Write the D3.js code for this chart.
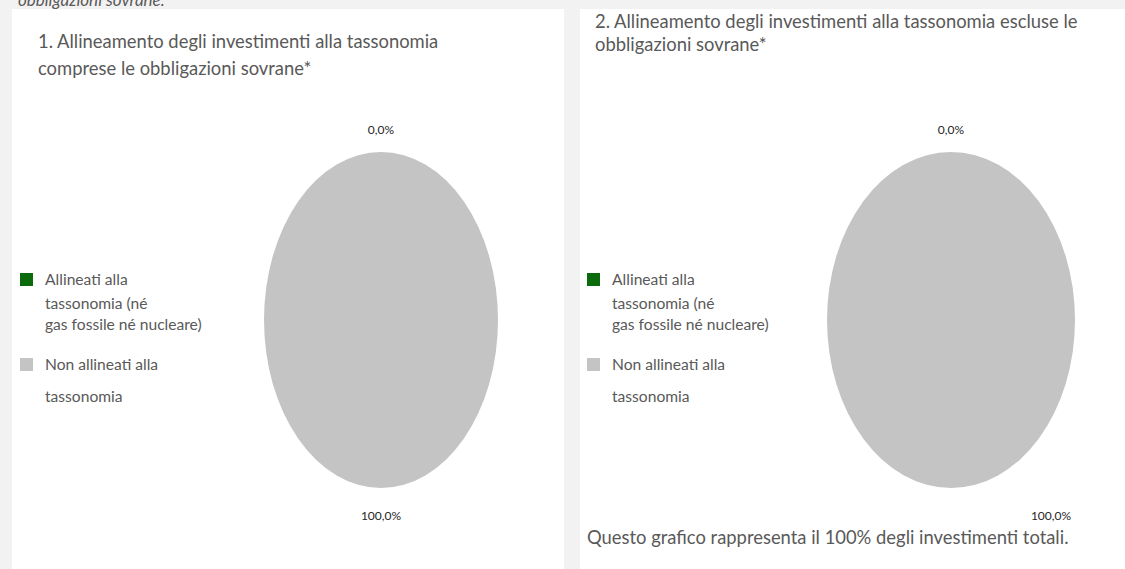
<!DOCTYPE html>
<html>
<head>
<meta charset="utf-8">
<script src="https://cdn.jsdelivr.net/npm/d3@7"></script>
<style>
  body { margin: 0; background: #f2f2f2; font-family: Lato, "Open Sans", sans-serif; }
  svg text { font-family: Lato, "Open Sans", sans-serif; }
</style>
</head>
<body>
<script>
//Chart data
var categories = ["Allineati alla tassonomia (né gas fossile né nucleare)", "Non allineati alla tassonomia"];
var colors = ["#0b6a0b", "#c4c4c4"];
var valuesIncl = [0.0, 100.0];   //comprese le obbligazioni sovrane
var valuesExcl = [0.0, 100.0];   //escluse le obbligazioni sovrane
var titlesIncl = ["1. Allineamento degli investimenti alla tassonomia", "comprese le obbligazioni sovrane*"];
var titlesExcl = ["2. Allineamento degli investimenti alla tassonomia escluse le", "obbligazioni  sovrane*"];
var legendLines = [["Allineati alla", "tassonomia (né", "gas fossile né nucleare)"], ["Non allineati alla", "", "tassonomia"]];
var footnote = "Questo grafico rappresenta il 100% degli investimenti totali.";

var w = 1125, h = 569;

var svg = d3.select("body").append("svg")
    .attr("width", w)
    .attr("height", h);

svg.append("rect").attr("width", w).attr("height", h).attr("fill", "#f2f2f2");

//italic line cut off from the section above
svg.append("text")
    .attr("x", 18).attr("y", 6)
    .attr("font-size", 17)
    .attr("font-style", "italic")
    .attr("fill", "#595959")
    .text("obbligazioni sovrane.");

var fmt = function(v) { return d3.format(".1f")(v).replace(".", ",") + "%"; };

var panels = [
    { x: 12, w: 552, values: valuesIncl, titles: titlesIncl, titleX: 26, titleY: [39, 66],
      cx: 369, rx: 117, legendX: 8, lab100dx: 0 },
    { x: 580, w: 545, values: valuesExcl, titles: titlesExcl, titleX: 15, titleY: [19, 42],
      cx: 371, rx: 124, legendX: 7, lab100dx: 100 }
];

var pie = d3.pie().sort(null).value(function(d) { return d; });
var arc = d3.arc().innerRadius(0).outerRadius(1);

panels.forEach(function(p, pi) {
    var g = svg.append("g").attr("transform", "translate(" + p.x + ",9)");

    g.append("rect")
        .attr("width", p.w)
        .attr("height", h - 9)
        .attr("fill", "#ffffff");

    //title
    g.selectAll(".title")
        .data(p.titles)
        .enter()
        .append("text")
        .attr("x", p.titleX)
        .attr("y", function(d, i) { return p.titleY[i]; })
        .attr("font-size", 18.4)
        .attr("fill", "#595959")
        .text(function(d) { return d; });

    //pie, drawn on a unit circle and stretched into an ellipse
    var cy = 311, ry = 168;
    var pg = g.append("g")
        .attr("transform", "translate(" + p.cx + "," + cy + ") scale(" + p.rx + "," + ry + ")");

    var arcs = pie(p.values);
    pg.selectAll("path")
        .data(arcs)
        .enter()
        .append("path")
        .attr("d", arc)
        .attr("fill", function(d, i) { return colors[i]; });

    //value labels, pushed outside the ellipse
    g.selectAll(".lab")
        .data(arcs)
        .enter()
        .append("text")
        .attr("x", function(d, i) {
            var a = (d.startAngle + d.endAngle) / 2;
            return p.cx + Math.sin(a) * (p.rx + 20) + (i == 1 ? p.lab100dx : 0);
        })
        .attr("y", function(d, i) {
            var a = (d.startAngle + d.endAngle) / 2;
            return cy - Math.cos(a) * (ry + (i == 0 ? 22 : 28)) + 4;
        })
        .attr("text-anchor", "middle")
        .attr("font-size", 12)
        .attr("fill", "#262626")
        .text(function(d) { return fmt(d.value); });

    //legend
    var lg = g.append("g").attr("transform", "translate(" + p.legendX + ",0)");
    var legendY = [[270, 294, 315], [355, 0, 387]];
    categories.forEach(function(c, ci) {
        lg.append("rect")
            .attr("x", 0)
            .attr("y", legendY[ci][0] - 6)
            .attr("width", 13)
            .attr("height", 13)
            .attr("fill", colors[ci]);
        legendLines[ci].forEach(function(line, li) {
            if (!line) return;
            lg.append("text")
                .attr("x", 25)
                .attr("y", legendY[ci][li] + 5.5)
                .attr("font-size", 15.6)
                .attr("fill", "#595959")
                .text(line);
        });
    });

    if (pi == 1) {
        g.append("text")
            .attr("x", 7)
            .attr("y", 535)
            .attr("font-size", 18.4)
            .attr("fill", "#595959")
            .text(footnote);
    }
});
</script>
</body>
</html>
